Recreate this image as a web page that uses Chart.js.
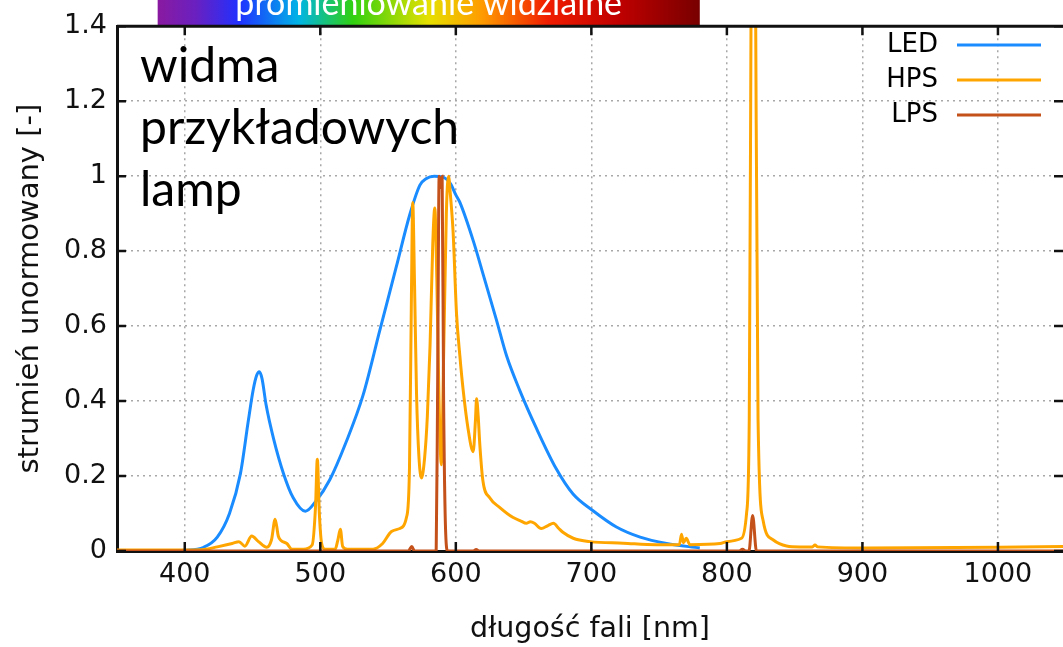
<!DOCTYPE html>
<html lang="pl">
<head>
<meta charset="utf-8">
<title>widma przykładowych lamp</title>
<script src="https://cdn.jsdelivr.net/npm/chart.js@4.4.1/dist/chart.umd.min.js"></script>
<style>
  html, body { margin: 0; padding: 0; background: #fff; }
  #wrap { width: 1063px; height: 647px; }
</style>
</head>
<body>
<div id="wrap"><canvas id="spectra" width="1063" height="647"></canvas></div>
<script>
// axis ranges and ticks (wavelength in nm, normalised flux)
const xMin = 350, xMax = 1048;
const xTicks = [400, 500, 600, 700, 800, 900, 1000];
const yTicks = [0, 0.2, 0.4, 0.6, 0.8, 1, 1.2, 1.4];
const yTickLabels = ['0', '0.2', '0.4', '0.6', '0.8', '1', '1.2', '1.4'];
const visibleBand = [380, 780];

// LED
const ledNm  = [380, 400, 414, 424, 433, 441, 447, 450.5, 453, 455, 457, 460, 465.5, 473, 480, 489, 497, 507, 519, 531.5, 544, 556, 566, 573.5, 578, 584, 590, 596, 600, 603, 613, 620, 630, 637.5, 647, 659.5, 674, 686.5, 701, 718.5, 736, 755.5, 780];
const ledVal = [0, 0.002, 0.01, 0.037, 0.1, 0.205, 0.35, 0.43, 0.468, 0.478, 0.46, 0.39, 0.30, 0.205, 0.142, 0.106, 0.134, 0.19, 0.29, 0.415, 0.59, 0.757, 0.897, 0.976, 0.993, 1.0, 0.998, 0.98, 0.95, 0.93, 0.826, 0.74, 0.616, 0.52, 0.43, 0.327, 0.22, 0.152, 0.108, 0.064, 0.037, 0.02, 0.008];

// HPS
const hpsNm  = [350, 406, 414, 424, 435, 440, 444.3, 449.4, 454.4, 460.5, 464, 466.7, 469, 471, 475.3, 479, 487.6, 494, 496.5, 497.8, 499.3, 501, 503.5, 511, 513, 514.8, 516.5, 520, 539, 546, 552.5, 558.7, 563.6, 565.8, 567.3, 568.2, 569.5, 571, 572.8, 574.7, 577, 579, 581, 583, 584.5, 586, 587.5, 589.3, 591, 593, 594.6, 596, 598, 600.5, 603, 605.4, 609, 612.8, 614.5, 615.3, 616.5, 617.7, 620, 625, 632.5, 642, 648, 652, 655, 658, 663, 668, 672, 676, 679, 686.6, 699, 723.5, 748, 765, 766.5, 768, 770, 772.7, 795, 800, 810.8, 814.5, 816.5, 818, 819.5, 821, 823, 826.8, 834, 854, 863, 865, 867, 903, 1001, 1048];
const hpsVal = [0.003, 0.003, 0.004, 0.011, 0.02, 0.025, 0.013, 0.04, 0.025, 0.01, 0.03, 0.085, 0.04, 0.028, 0.02, 0.005, 0.005, 0.016, 0.12, 0.245, 0.1, 0.02, 0.005, 0.005, 0.03, 0.058, 0.012, 0.005, 0.005, 0.02, 0.052, 0.06, 0.09, 0.22, 0.7, 0.93, 0.72, 0.42, 0.25, 0.195, 0.25, 0.36, 0.55, 0.82, 0.915, 0.72, 0.42, 0.23, 0.52, 0.9, 1.0, 0.95, 0.85, 0.634, 0.52, 0.43, 0.327, 0.265, 0.35, 0.406, 0.36, 0.284, 0.187, 0.142, 0.116, 0.09, 0.08, 0.074, 0.078, 0.074, 0.06, 0.068, 0.074, 0.06, 0.05, 0.034, 0.025, 0.021, 0.017, 0.017, 0.045, 0.022, 0.034, 0.017, 0.02, 0.025, 0.034, 0.1, 0.35, 1.6, 2.6, 1.6, 0.35, 0.08, 0.03, 0.011, 0.011, 0.016, 0.011, 0.008, 0.01, 0.012];

// LPS
const lpsNm  = [350, 565, 567.5, 569.5, 585.5, 586.5, 587.7, 588.8, 589.9, 591, 592.5, 594, 613, 615, 617, 809, 811.5, 814, 816.3, 819, 821.8, 1048];
const lpsVal = [0, 0, 0.012, 0, 0, 0.4, 1.0, 0.97, 1.0, 0.4, 0.05, 0, 0, 0.004, 0, 0, 0.005, 0, 0, 0.095, 0, 0];

const FONT = 'DejaVu Sans';
const toPoints = (xs, ys) => xs.map((x, i) => ({ x: x, y: ys[i] }));

// banner, title text, legend, frame and inward ticks
const decorPlugin = {
    id: 'decor',
    afterDraw(chart) {
        const { ctx, chartArea: area, scales: { x, y } } = chart;
        ctx.save();

        // visible spectrum banner
        const bx0 = x.getPixelForValue(visibleBand[0]);
        const bx1 = x.getPixelForValue(visibleBand[1]);
        const grad = ctx.createLinearGradient(bx0, 0, bx1, 0);
        grad.addColorStop(0, '#8a1aa0');
        grad.addColorStop(0.07, '#6a20c0');
        grad.addColorStop(0.15, '#2030ff');
        grad.addColorStop(0.26, '#00b4e6');
        grad.addColorStop(0.36, '#30d010');
        grad.addColorStop(0.5, '#e6e000');
        grad.addColorStop(0.6, '#ff9a00');
        grad.addColorStop(0.72, '#f01c00');
        grad.addColorStop(0.85, '#c00000');
        grad.addColorStop(1, '#780000');
        ctx.fillStyle = grad;
        ctx.fillRect(bx0, 0, bx1 - bx0, area.top);
        ctx.fillStyle = '#fff';
        ctx.font = '34px Lato';
        ctx.textAlign = 'center';
        ctx.textBaseline = 'alphabetic';
        ctx.fillText('promieniowanie widzialne', (bx0 + bx1) / 2, 15);

        // frame top line
        ctx.strokeStyle = '#111';
        ctx.lineWidth = 3;
        ctx.beginPath();
        ctx.moveTo(area.left, area.top);
        ctx.lineTo(area.right, area.top);
        ctx.stroke();

        // inward tick marks
        ctx.lineWidth = 2.5;
        ctx.beginPath();
        xTicks.forEach(v => {
            const px = x.getPixelForValue(v);
            ctx.moveTo(px, area.bottom); ctx.lineTo(px, area.bottom - 9);
            ctx.moveTo(px, area.top); ctx.lineTo(px, area.top + 9);
        });
        yTicks.forEach(v => {
            const py = y.getPixelForValue(v);
            ctx.moveTo(area.left, py); ctx.lineTo(area.left + 9, py);
            ctx.moveTo(area.right, py); ctx.lineTo(area.right - 9, py);
        });
        ctx.stroke();

        // title text in the upper left
        ctx.fillStyle = '#000';
        ctx.font = '48px Lato';
        ctx.textAlign = 'left';
        ['widma', 'przykładowych', 'lamp'].forEach((t, i) => {
            ctx.fillText(t, 140, 82 + i * 62);
        });

        // legend in the upper right
        ctx.font = `26px "${FONT}"`;
        ctx.textAlign = 'right';
        ctx.textBaseline = 'middle';
        chart.data.datasets.forEach((ds, i) => {
            const ly = 45 + i * 35;
            ctx.fillStyle = '#000';
            ctx.fillText(ds.label, 938, ly);
            ctx.strokeStyle = ds.borderColor;
            ctx.lineWidth = 3;
            ctx.beginPath();
            ctx.moveTo(957, ly);
            ctx.lineTo(1041, ly);
            ctx.stroke();
        });

        ctx.restore();
    }
};

const lineStyle = { borderWidth: 3, pointRadius: 0, cubicInterpolationMode: 'monotone', fill: false };

new Chart(document.getElementById('spectra'), {
    type: 'line',
    data: {
        datasets: [
            { label: 'LED', data: toPoints(ledNm, ledVal), borderColor: '#1a8cff', order: 3, ...lineStyle },
            { label: 'HPS', data: toPoints(hpsNm, hpsVal), borderColor: '#ffa500', order: 2, ...lineStyle },
            { label: 'LPS', data: toPoints(lpsNm, lpsVal), borderColor: '#c4501a', order: 1, ...lineStyle }
        ]
    },
    options: {
        responsive: false,
        animation: false,
        devicePixelRatio: 1,
        layout: { padding: { top: 21, right: 0, left: 0, bottom: 0 } },
        plugins: {
            legend: { display: false },
            tooltip: { enabled: false }
        },
        scales: {
            x: {
                type: 'linear',
                min: xMin,
                max: xMax,
                afterBuildTicks: s => { s.ticks = xTicks.map(v => ({ value: v })); },
                afterFit: s => { s.height = 96; },
                ticks: {
                    callback: v => String(v),
                    font: { family: FONT, size: 27 },
                    color: '#111',
                    padding: 8,
                    maxRotation: 0,
                    autoSkip: false
                },
                grid: { color: '#a8a8a8', lineWidth: 1.5, drawTicks: false },
                border: { color: '#111', width: 3, dash: [2, 4] },
                title: {
                    display: true,
                    text: 'długość fali [nm]',
                    font: { family: FONT, size: 28.5 },
                    color: '#111',
                    padding: { top: 0, bottom: 0 }
                }
            },
            y: {
                min: 0,
                max: 1.4,
                afterBuildTicks: s => { s.ticks = yTicks.map(v => ({ value: v })); },
                afterFit: s => { s.width = 117; },
                ticks: {
                    callback: (v, i) => yTickLabels[i],
                    font: { family: FONT, size: 27 },
                    color: '#111',
                    padding: 10
                },
                grid: { color: '#a8a8a8', lineWidth: 1.5, drawTicks: false },
                border: { color: '#111', width: 3, dash: [2, 4] },
                title: {
                    display: true,
                    text: 'strumień unormowany [-]',
                    font: { family: FONT, size: 29 },
                    color: '#111',
                    padding: { top: 13, bottom: 0 }
                }
            }
        }
    },
    plugins: [decorPlugin]
});
</script>
</body>
</html>
